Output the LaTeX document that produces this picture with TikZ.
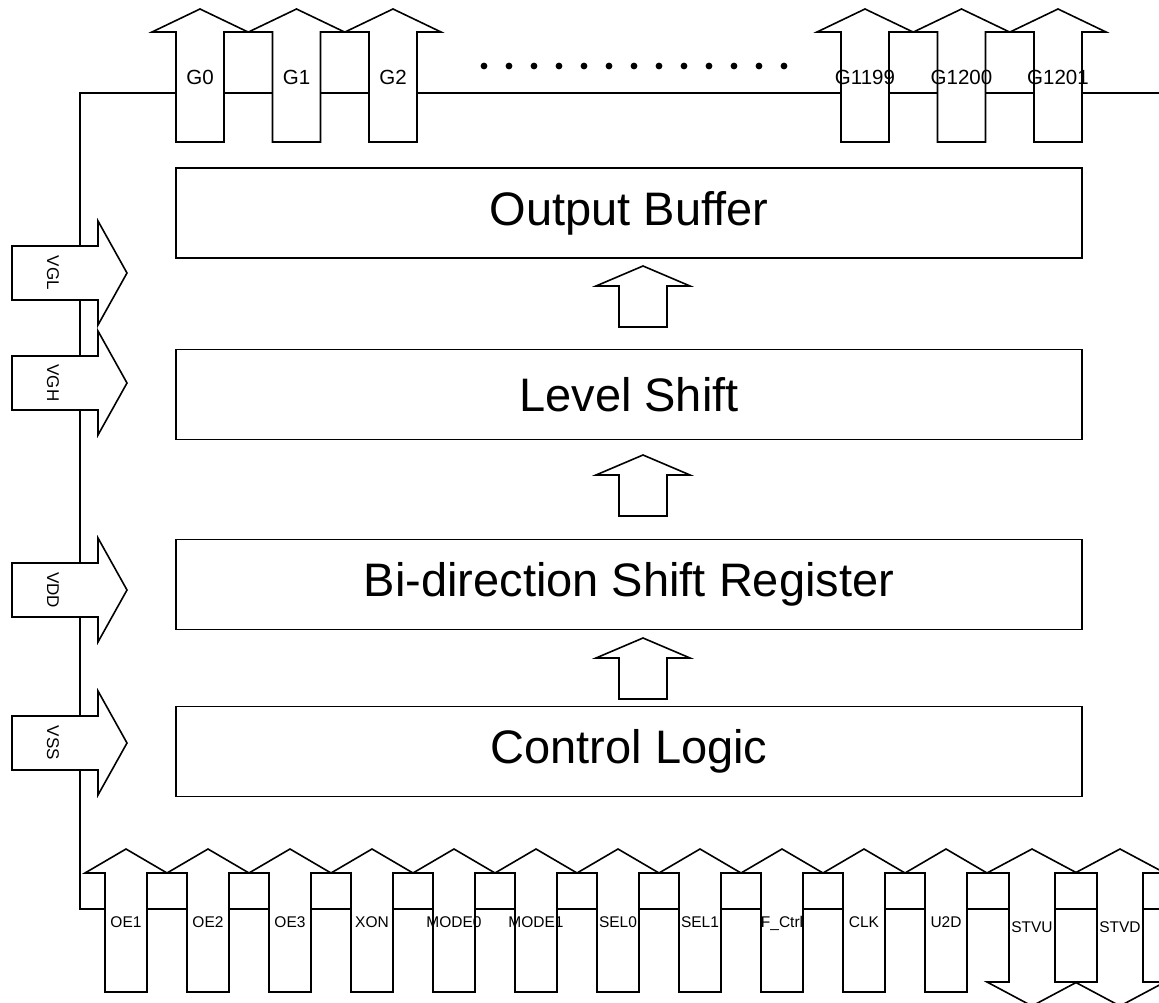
\documentclass[tikz,border=0pt]{standalone}
\usepackage{fontspec}
\setmainfont{Liberation Sans}
\usepackage{tikz}

\tikzset{
  wire/.style={line width=1.6pt},
  barrow/.style={draw, line width=1.6pt, fill=white, line join=miter},
  blk/.style={draw, line width=1.6pt, minimum width=906pt, minimum height=90pt, inner sep=0pt, font=\fontsize{47}{51}\selectfont},
  glbl/.style={anchor=base, inner sep=0pt, font=\fontsize{20.5}{22}\selectfont},
  plbl/.style={rotate=-90, inner sep=0pt, font=\fontsize{17}{19}\selectfont},
  slbl/.style={anchor=base, inner sep=0pt, font=\fontsize{15.5}{17}\selectfont}
}

\begin{document}
\begin{tikzpicture}[x=1pt,y=-1pt]
  \useasboundingbox (0,0) rectangle (1159,1003);

  % buses
  \draw[wire] (1159,93) -- (80,93) -- (80,909) -- (1159,909);

  % gate outputs
  \foreach \x/\t in {200/G0,296.5/G1,393/G2,865/G1199,961.5/G1200,1058/G1201}{
    \draw[barrow] (\x-24,142) -- (\x-24,32) -- (\x-48,32) -- (\x,9) -- (\x+48,32) -- (\x+24,32) -- (\x+24,142) -- cycle;
    \node[glbl] (\t) at (\x,85) {\t};
  }
  \foreach \i in {0,...,12}
    \fill (484+25*\i,66) circle (3.4);

  % power inputs
  \foreach \y/\t in {273/VGL,383/VGH,590/VDD,743/VSS}{
    \draw[barrow] (12,\y-27) -- (98,\y-27) -- (98,\y-52) -- (127,\y) -- (98,\y+52) -- (98,\y+27) -- (12,\y+27) -- cycle;
    \node[plbl] (\t) at (53,\y) {\t};
  }

  % blocks
  \node[blk] (outbuf) at (629,213) {Output Buffer};
  \node[blk] (lvlshift) at (629,394.5) {Level Shift};
  \node[blk] (shiftreg) at (629,584.5) {Bi-direction Shift Register};
  \node[blk] (ctrl) at (629,751.5) {Control Logic};

  \foreach \t in {266,455,638}
    \draw[barrow] (619,\t+61) -- (619,\t+20) -- (596,\t+20) -- (643,\t) -- (690,\t+20) -- (667,\t+20) -- (667,\t+61) -- cycle;

  % control inputs
  \foreach \n/\t [count=\k from 0] in {oe1/OE1,oe2/OE2,oe3/OE3,xon/XON,mode0/MODE0,mode1/MODE1,sel0/SEL0,sel1/SEL1,fctrl/F\_Ctrl,clk/CLK,u2d/U2D}{
    \pgfmathsetmacro\x{126+82*\k}
    \draw[barrow] (\x-21,992) -- (\x-21,873) -- (\x-41,873) -- (\x,849) -- (\x+41,873) -- (\x+21,873) -- (\x+21,992) -- cycle;
    \node[slbl] (\n) at (\x,927.5) {\t};
  }
  \foreach \x/\t in {1032/STVU,1120/STVD}{
    \draw[barrow] (\x-23,982) -- (\x-23,873) -- (\x-45,873) -- (\x,849) -- (\x+45,873) -- (\x+23,873) -- (\x+23,982) -- (\x+45,982) -- (\x,1006) -- (\x-45,982) -- cycle;
    \node[slbl] (\t) at (\x,932.5) {\t};
  }
\end{tikzpicture}
\end{document}
